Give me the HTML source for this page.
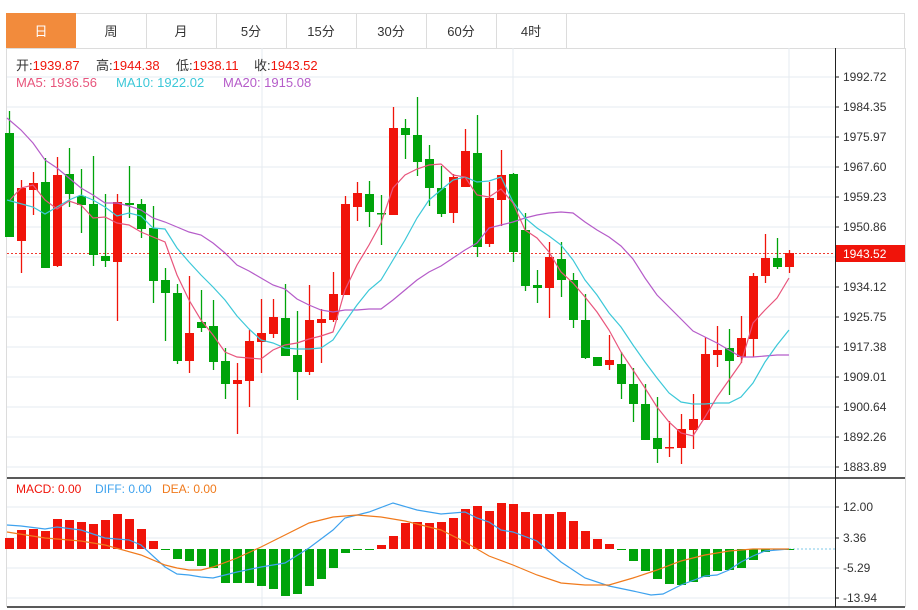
<!DOCTYPE html>
<html><head><meta charset="utf-8"><style>
body{margin:0;background:#fff;width:918px;height:610px;overflow:hidden;font-family:"Liberation Sans","Noto Sans CJK SC",sans-serif}
svg{position:absolute;left:0;top:0}
text{font-family:"Liberation Sans","Noto Sans CJK SC",sans-serif}
</style></head><body>
<svg width="918" height="610" xmlns="http://www.w3.org/2000/svg">
<rect x="0" y="0" width="918" height="610" fill="#fff"/>
<rect x="6.5" y="13.5" width="898" height="35" fill="#fff" stroke="#dcdcdc"/>
<rect x="6" y="13" width="70" height="35" fill="#f28b3c"/>
<g stroke="#dcdcdc"><line x1="146.5" y1="13" x2="146.5" y2="48"/><line x1="216.5" y1="13" x2="216.5" y2="48"/><line x1="286.5" y1="13" x2="286.5" y2="48"/><line x1="356.5" y1="13" x2="356.5" y2="48"/><line x1="426.5" y1="13" x2="426.5" y2="48"/><line x1="496.5" y1="13" x2="496.5" y2="48"/><line x1="566.5" y1="13" x2="566.5" y2="48"/></g>
<g font-size="13" fill="#333" text-anchor="middle"><text x="41" y="36" fill="#fff">日</text><text x="111" y="36">周</text><text x="181" y="36">月</text><text x="251" y="36">5分</text><text x="321" y="36">15分</text><text x="391" y="36">30分</text><text x="461" y="36">60分</text><text x="531" y="36">4时</text></g>
<line x1="6.5" y1="48" x2="6.5" y2="607" stroke="#dcdcdc"/>
<line x1="905.5" y1="48" x2="905.5" y2="607" stroke="#dcdcdc"/>
<g stroke="#e6ebf0">
<line x1="7" y1="77" x2="835" y2="77"/><line x1="7" y1="107" x2="835" y2="107"/><line x1="7" y1="137" x2="835" y2="137"/><line x1="7" y1="167" x2="835" y2="167"/><line x1="7" y1="197" x2="835" y2="197"/><line x1="7" y1="227" x2="835" y2="227"/><line x1="7" y1="257" x2="835" y2="257"/><line x1="7" y1="287" x2="835" y2="287"/><line x1="7" y1="317" x2="835" y2="317"/><line x1="7" y1="347" x2="835" y2="347"/><line x1="7" y1="377" x2="835" y2="377"/><line x1="7" y1="407" x2="835" y2="407"/><line x1="7" y1="437" x2="835" y2="437"/><line x1="7" y1="467" x2="835" y2="467"/>
<line x1="7" y1="507" x2="835" y2="507"/><line x1="7" y1="538" x2="835" y2="538"/><line x1="7" y1="568" x2="835" y2="568"/><line x1="7" y1="598" x2="835" y2="598"/>
<line x1="262" y1="48" x2="262" y2="607"/><line x1="513" y1="48" x2="513" y2="607"/><line x1="789" y1="48" x2="789" y2="607"/>
</g>
<line x1="7" y1="478" x2="905" y2="478" stroke="#222" stroke-width="1.5"/>
<line x1="7" y1="607" x2="905" y2="607" stroke="#222" stroke-width="1.5"/>
<line x1="835.5" y1="48" x2="835.5" y2="607" stroke="#222"/>
<g font-size="12" fill="#333">
<text x="843" y="81">1992.72</text><text x="843" y="111">1984.35</text><text x="843" y="141">1975.97</text><text x="843" y="171">1967.60</text><text x="843" y="201">1959.23</text><text x="843" y="231">1950.86</text><text x="843" y="291">1934.12</text><text x="843" y="321">1925.75</text><text x="843" y="351">1917.38</text><text x="843" y="381">1909.01</text><text x="843" y="411">1900.64</text><text x="843" y="441">1892.26</text><text x="843" y="471">1883.89</text>
<text x="843" y="511">12.00</text><text x="843" y="542">3.36</text><text x="843" y="572">-5.29</text><text x="843" y="602">-13.94</text>
</g>
<g stroke="#222"><line x1="835" y1="77" x2="839" y2="77"/><line x1="835" y1="107" x2="839" y2="107"/><line x1="835" y1="137" x2="839" y2="137"/><line x1="835" y1="167" x2="839" y2="167"/><line x1="835" y1="197" x2="839" y2="197"/><line x1="835" y1="227" x2="839" y2="227"/><line x1="835" y1="287" x2="839" y2="287"/><line x1="835" y1="317" x2="839" y2="317"/><line x1="835" y1="347" x2="839" y2="347"/><line x1="835" y1="377" x2="839" y2="377"/><line x1="835" y1="407" x2="839" y2="407"/><line x1="835" y1="437" x2="839" y2="437"/><line x1="835" y1="467" x2="839" y2="467"/><line x1="835" y1="507" x2="839" y2="507"/><line x1="835" y1="538" x2="839" y2="538"/><line x1="835" y1="568" x2="839" y2="568"/><line x1="835" y1="598" x2="839" y2="598"/></g>
<line x1="7" y1="253.5" x2="835" y2="253.5" stroke="#f03a30" stroke-dasharray="2,2"/>
<rect x="836" y="245" width="69" height="17" fill="#f0140a"/>
<text x="843" y="258" font-size="12" fill="#fff">1943.52</text>
<line x1="789" y1="549" x2="835" y2="549" stroke="#7fc8e8" stroke-dasharray="2,2"/>
<g font-size="13">
<text x="16" y="70" fill="#333">开:<tspan fill="#f0140a">1939.87</tspan></text>
<text x="96" y="70" fill="#333">高:<tspan fill="#f0140a">1944.38</tspan></text>
<text x="176" y="70" fill="#333">低:<tspan fill="#f0140a">1938.11</tspan></text>
<text x="254" y="70" fill="#333">收:<tspan fill="#f0140a">1943.52</tspan></text>
<text x="16" y="87" fill="#e8557c">MA5: 1936.56</text>
<text x="116" y="87" fill="#3cc8d8">MA10: 1922.02</text>
<text x="223" y="87" fill="#b55cc9">MA20: 1915.08</text>
</g>
<g font-size="12">
<text x="16" y="493" fill="#f0140a">MACD: 0.00</text>
<text x="95" y="493" fill="#3ea2ee">DIFF: 0.00</text>
<text x="162" y="493" fill="#f07a1c">DEA: 0.00</text>
</g>
<g id="candles"></g>
<g id="macd"></g>
<polyline fill="none" stroke="#b55cc9" stroke-width="1.2" points="7,118 21,130 33,143 45,160 57,168 69,178 81,188 93,195 105,203 117,203 129,206 141,210 153,218 165,222 177,227 189,232 201,235 213,243 225,253 237,265 249,271 261,278 273,285 285,289 297,299 309,305 321,310 333,312 345,310 357,310 369,309 381,309 393,300 405,290 417,280 429,272 441,266 453,258 465,250 477,243 489,228 501,225 513,222 525,218 537,215 549,213 561,212 573,213 585,222 597,230 609,237 621,246 633,259 645,278 657,295 669,307 681,319 693,331 705,337 717,343 729,350 741,357 753,357 765,356 777,355 789,355"/>
<polyline fill="none" stroke="#3cc8d8" stroke-width="1.2" points="7,200 33,207 45,214 57,207 69,200 81,195 93,200 105,207 117,216 129,213 141,216 153,228 165,229 177,248 189,262 201,275 213,287 225,300 237,316 249,329 261,340 273,343 285,348 297,349 309,349 321,348 333,340 345,322 357,305 369,290 381,280 393,260 405,240 417,218 429,200 441,190 453,180 465,177 477,182 489,181 501,177 513,202 525,218 537,228 549,236 561,245 573,260 585,280 597,295 609,313 621,327 633,345 645,362 657,378 669,393 681,402 693,404 705,404 717,403 729,403 741,397 753,383 765,362 777,345 789,330"/>
<polyline fill="none" stroke="#e8557c" stroke-width="1.2" points="10,200 21,188 33,185 45,200 57,209 69,201 81,205 93,218 105,217 117,223 129,225 141,232 153,237 165,242 177,275 189,300 201,320 213,335 225,352 237,357 249,358 261,359 273,350 285,345 297,343 309,339 321,336 333,332 345,290 357,265 369,245 381,223 393,188 405,175 417,169 429,165 441,164 453,175 465,177 477,195 489,197 501,189 513,203 525,230 537,238 549,252 561,272 573,283 585,297 597,312 609,330 621,352 633,370 645,388 657,407 669,422 681,433 693,436 705,417 717,397 729,380 741,363 753,323 765,310 777,298 789,278"/>
<polyline fill="none" stroke="#3ea2ee" stroke-width="1.2" points="7,525 21,526 45,529 57,527 81,530 105,538 129,540 141,545 165,567 177,574 189,575 201,577 213,578 237,572 261,567 285,563 309,548 333,530 345,518 369,512 393,503 417,510 441,514 465,512 477,518 489,522 501,530 513,532 537,541 561,562 585,578 609,586 633,591 651,595 663,594 681,585 705,576 717,575 729,570 741,562 753,556 765,551 789,549"/>
<polyline fill="none" stroke="#f07a1c" stroke-width="1.2" points="7,532 45,538 81,541 105,545 141,555 165,565 177,568 189,570 201,570 213,567 237,558 261,547 285,535 309,523 333,517 357,515 381,517 405,521 441,530 465,542 489,556 513,565 537,575 561,583 585,585 609,585 633,578 657,570 681,561 705,555 729,551 753,549 789,549"/>
</svg>
<script>
var C=[[0,133,237,111,237],[1,188,241,180,273],[1,183,190,172,215],[0,182,268,158,268],[1,175,266,157,267],[0,174,194,148,207],[0,196,205,169,233],[0,204,255,156,266],[0,256,261,194,267],[1,202,262,194,321],[0,203,205,166,218],[0,204,229,199,238],[0,228,281,206,303],[0,280,293,268,341],[0,293,361,284,364],[1,333,361,276,373],[0,322,328,290,332],[0,326,362,300,370],[0,361,384,348,399],[1,380,384,363,434],[1,341,381,330,407],[1,333,342,299,373],[1,317,334,299,338],[0,318,356,284,356],[0,355,372,311,400],[1,320,372,285,375],[1,319,323,309,363],[1,294,320,272,322],[1,204,295,196,295],[1,193,207,182,221],[0,194,212,181,227],[0,213,214,195,245],[1,128,215,107,215],[0,128,135,119,159],[0,135,162,97,176],[0,159,188,145,206],[0,188,214,166,217],[1,177,213,174,223],[1,151,187,129,187],[0,153,247,115,257],[1,198,244,182,247],[1,175,200,150,226],[0,174,252,173,262],[0,230,286,213,291],[0,285,288,270,303],[1,257,288,242,318],[0,259,280,242,297],[0,280,320,273,328],[0,320,358,294,359],[0,357,366,357,366],[1,360,365,335,370],[0,364,384,352,399],[0,384,404,368,422],[0,404,440,384,440],[0,438,449,397,463],[1,447,448,421,457],[1,429,448,414,464],[1,419,430,394,449],[1,354,420,337,420],[1,350,355,326,367],[0,348,361,329,395],[1,338,357,316,363],[1,276,339,273,357],[1,258,276,234,283],[0,258,267,238,269],[1,253,267,250,273]];
var M=[538,530,529,531,519,520,522,524,520,514,519,529,541,550,559,561,566,568,583,583,583,586,589,596,594,586,579,568,553,550,549,545,536,523,522,523,522,518,509,506,511,503,504,512,514,514,512,521,531,539,544,550,561,571,579,584,585,582,577,571,570,568,560,552,550,549];
var s='',m='';
C.forEach(function(c,i){var x=9.5+12*i,col=c[0]?'#f0140a':'#00a30a';
s+='<line x1="'+x+'" y1="'+c[3]+'" x2="'+x+'" y2="'+c[4]+'" stroke="'+col+'" stroke-width="1.3"/>';
s+='<rect x="'+(x-4.5)+'" y="'+c[1]+'" width="9" height="'+Math.max(1.5,c[2]-c[1])+'" fill="'+col+'"/>';});
M.forEach(function(y,i){var x=9.5+12*i,z=549;if(Math.abs(y-z)<1)y=z+1;var col=y<z?'#f0140a':'#00a30a';
m+='<rect x="'+(x-4.5)+'" y="'+Math.min(y,z)+'" width="9" height="'+Math.max(1,Math.abs(y-z))+'" fill="'+col+'"/>';});
document.getElementById('candles').innerHTML=s;document.getElementById('macd').innerHTML=m;
</script>
</body></html>
